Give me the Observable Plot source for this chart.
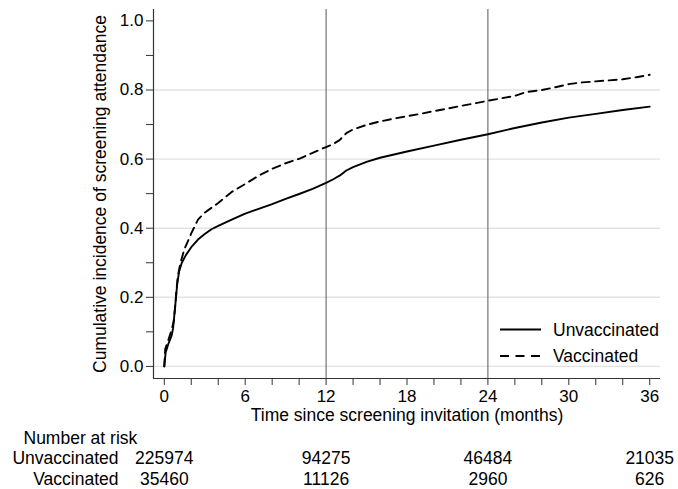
<!DOCTYPE html>
<html>
<head>
<meta charset="utf-8">
<script src="https://cdn.jsdelivr.net/npm/d3@7"></script>
<script src="https://cdn.jsdelivr.net/npm/@observablehq/plot@0.6"></script>
<style>
  body { margin: 0; background: #fff; font-family: "Liberation Sans", Arial, sans-serif; }
  #chart { position: relative; width: 678px; height: 489px; overflow: hidden; }
  #legend { position: absolute; left: 496px; top: 314px; }
</style>
</head>
<body>
<div id="chart"></div>
<script>
// ---- Data ----
const seriesNames = ["Unvaccinated", "Vaccinated"];

const unvaxMonths = [0, 0.1, 0.3, 0.55, 0.65, 0.8, 0.95, 1.1, 1.3, 1.6, 2, 2.5, 3, 3.5, 4, 5, 6, 7, 8, 9, 10, 11, 12, 12.5, 13, 13.5, 14, 15, 16, 18, 20, 22, 24, 26, 28, 30, 32, 34, 36];
const unvaxValues = [0, 0.04, 0.065, 0.09, 0.11, 0.17, 0.235, 0.275, 0.30, 0.322, 0.345, 0.367, 0.383, 0.397, 0.407, 0.425, 0.442, 0.456, 0.470, 0.485, 0.499, 0.514, 0.531, 0.541, 0.552, 0.567, 0.577, 0.592, 0.604, 0.622, 0.639, 0.656, 0.672, 0.690, 0.706, 0.720, 0.731, 0.742, 0.752];

const vaxMonths = [0, 0.07, 0.2, 0.5, 0.7, 0.8, 0.9, 1.0, 1.2, 1.5, 2, 2.5, 3, 4, 5, 6, 7, 8, 9, 10, 11, 12, 12.5, 13, 13.5, 14, 15, 16, 17, 18, 19, 20, 21, 22, 23, 24, 25, 26, 26.6, 27, 28, 29, 30, 31, 32, 33, 34, 35, 36];
const vaxValues = [0, 0.05, 0.065, 0.10, 0.13, 0.17, 0.22, 0.26, 0.30, 0.34, 0.385, 0.425, 0.445, 0.473, 0.505, 0.528, 0.552, 0.572, 0.588, 0.601, 0.618, 0.635, 0.643, 0.655, 0.675, 0.686, 0.699, 0.709, 0.717, 0.724, 0.731, 0.739, 0.746, 0.754, 0.761, 0.769, 0.776, 0.783, 0.791, 0.795, 0.800, 0.808, 0.817, 0.822, 0.825, 0.828, 0.831, 0.837, 0.844];

const riskMonths = [0, 12, 24, 36];
const riskUnvax = [225974, 94275, 46484, 21035];
const riskVax = [35460, 11126, 2960, 626];

const yTickValues = [0, 0.1, 0.2, 0.3, 0.4, 0.5, 0.6, 0.7, 0.8, 0.9, 1.0];
const yGridValues = [0, 0.2, 0.4, 0.6, 0.8];
const xTickValues = d3.range(0, 37, 2);
const xLabelEvery = 6;
const refMonths = [12, 24];

const xDomain = [-0.8, 36.8];
const yDomain = [-0.035, 1.033];

const yTitle = "Cumulative incidence of screening attendance";
const xTitle = "Time since screening invitation (months)";
const riskTitle = "Number at risk";

// ---- Build tables ----
const unvax = unvaxMonths.map((m, i) => ({month: m, value: unvaxValues[i]}));
const vax = vaxMonths.map((m, i) => ({month: m, value: vaxValues[i]}));

const font = "'Liberation Sans', Arial, sans-serif";
const txt = {fontSize: 17.5, fill: "#000", lineAnchor: "middle"};

const chart = Plot.plot({
  width: 678,
  height: 489,
  marginLeft: 153,
  marginRight: 18,
  marginTop: 9,
  marginBottom: 111,
  style: {fontFamily: font, fontSize: "17px", color: "#000", background: "#fff", overflow: "visible"},
  x: {domain: xDomain},
  y: {domain: yDomain},
  marks: [
    Plot.ruleY(yGridValues, {stroke: "#e2e2e2", strokeWidth: 1.4}),
    Plot.ruleX(refMonths, {stroke: "#5a5a5a", strokeWidth: 1}),
    Plot.line(unvax, {x: "month", y: "value", stroke: "#000", strokeWidth: 1.9}),
    Plot.line(vax, {x: "month", y: "value", stroke: "#000", strokeWidth: 1.9, strokeDasharray: "8,5.5"}),
    Plot.ruleX([xDomain[0]], {stroke: "#333", strokeWidth: 1.2}),
    Plot.ruleY([yDomain[0]], {stroke: "#333", strokeWidth: 1.2}),
    Plot.axisY(yTickValues, {
      tickSize: 7, tickPadding: 3, label: null, stroke: "#333",
      tickFormat: (d, i) => (i % 2 === 0 ? d.toFixed(1) : ""),
      fontSize: 17
    }),
    Plot.axisX(xTickValues, {
      tickSize: 7, tickPadding: 4, label: null, stroke: "#333",
      tickFormat: d => (d % xLabelEvery === 0 ? String(d) : ""),
      fontSize: 17
    }),
    // axis titles
    Plot.text([xTitle], {...txt, text: d => d, frameAnchor: "bottom", dy: 37, textAnchor: "middle"}),
    Plot.text([yTitle], {...txt, text: d => d, frameAnchor: "left", rotate: -90, dx: -53, textAnchor: "middle"}),
    // number at risk table
    Plot.text([riskTitle], {...txt, text: d => d, frameAnchor: "bottom-left", dx: -130, dy: 60, textAnchor: "start"}),
    Plot.text([seriesNames[0]], {...txt, text: d => d, frameAnchor: "bottom-left", dx: -35, dy: 80, textAnchor: "end"}),
    Plot.text([seriesNames[1]], {...txt, text: d => d, frameAnchor: "bottom-left", dx: -35, dy: 100.5, textAnchor: "end"}),
    Plot.text(riskMonths, {...txt, x: d => d, text: (d, i) => String(riskUnvax[i]), frameAnchor: "bottom", dy: 80, textAnchor: "middle"}),
    Plot.text(riskMonths, {...txt, x: d => d, text: (d, i) => String(riskVax[i]), frameAnchor: "bottom", dy: 100.5, textAnchor: "middle"})
  ]
});

const container = document.getElementById("chart");
container.appendChild(chart);

// legend (inside plot area, lower right)
const legend = document.createElement("div");
legend.id = "legend";
const ns = "http://www.w3.org/2000/svg";
const lsvg = document.createElementNS(ns, "svg");
lsvg.setAttribute("width", "170");
lsvg.setAttribute("height", "56");
lsvg.style.fontFamily = font;
const dashes = [null, "9,6.5"];
seriesNames.forEach((name, i) => {
  const cy = 15.5 + i * 26.5;
  const ln = document.createElementNS(ns, "line");
  ln.setAttribute("x1", 4); ln.setAttribute("x2", 45);
  ln.setAttribute("y1", cy); ln.setAttribute("y2", cy);
  ln.setAttribute("stroke", "#000"); ln.setAttribute("stroke-width", 1.9);
  if (dashes[i]) ln.setAttribute("stroke-dasharray", dashes[i]);
  lsvg.appendChild(ln);
  const tx = document.createElementNS(ns, "text");
  tx.setAttribute("x", 57); tx.setAttribute("y", cy);
  tx.setAttribute("dy", "0.35em");
  tx.setAttribute("font-size", "17.5");
  tx.setAttribute("fill", "#000");
  tx.textContent = name;
  lsvg.appendChild(tx);
});
legend.appendChild(lsvg);
container.appendChild(legend);
</script>
</body>
</html>
